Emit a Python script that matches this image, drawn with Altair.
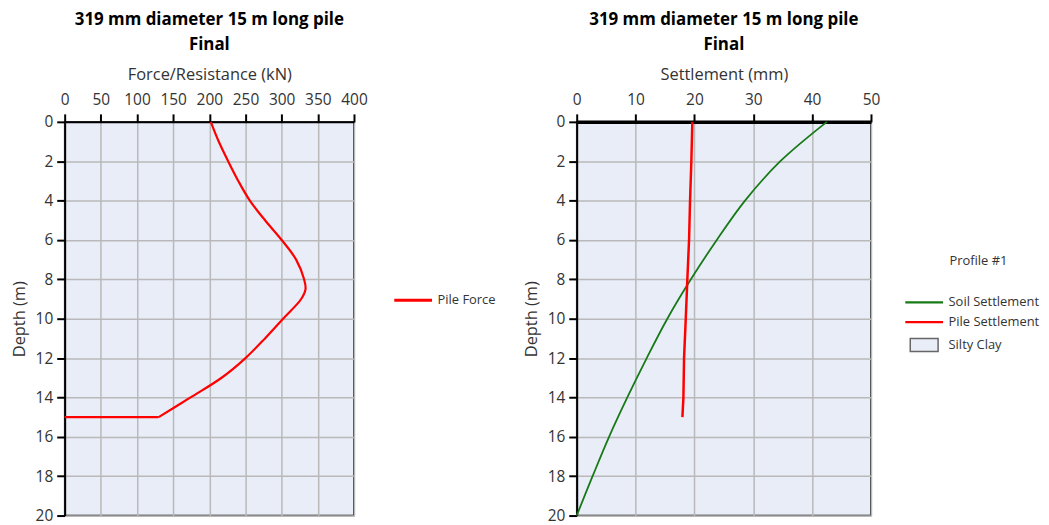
import altair as alt
import pandas as pd

# ---------------- data ----------------
title_lines = ["319 mm diameter 15 m long pile", "Final"]

force_depth = [0, 1, 2, 3, 4, 5, 6, 7, 8, 8.5, 9, 10, 11, 12, 13, 14, 15, 15]
pile_force = [202, 213, 226, 240, 256, 277, 300, 320, 331, 333, 327, 302, 277, 250, 217, 174, 130, 0]

soil_depth = [0, 2, 4, 6, 8, 10, 12, 14, 16, 18, 20]
soil_settlement = [42.5, 34.6, 28.6, 23.8, 19.4, 15.4, 11.9, 8.6, 5.5, 2.7, 0.0]

pile_depth = [0, 2, 4, 6, 8, 10, 12, 14, 15]
pile_settlement = [19.65, 19.48, 19.26, 19.09, 18.8, 18.53, 18.24, 18.13, 17.96]

soil_layers = ["Silty Clay"]
layer_top = [0]
layer_bottom = [20]

force_ticks = [0, 50, 100, 150, 200, 250, 300, 350, 400]
settle_ticks = [0, 10, 20, 30, 40, 50]
depth_ticks = [0, 2, 4, 6, 8, 10, 12, 14, 16, 18, 20]

# ---------------- style ----------------
FONT = "Open Sans"
BG = "#E9EDF8"
RED = "#ff0000"
GREEN = "#177a17"
GRAY = "#666666"
TXT = "#333333"
LBL = 15.5
TTL = 16.5
LEG = 13.0


def x_axis(title, ticks, dw=2.0):
    return alt.Axis(orient="top", title=title, values=ticks, domainColor="black",
                    domainWidth=dw, tickColor="black", tickWidth=2, tickSize=8,
                    labelFontSize=LBL, titleFontSize=TTL, labelPadding=6, titlePadding=11,
                    gridColor="#b9b9b9", gridWidth=1.5, labelColor=TXT, titleColor=TXT,
                    titleFontWeight="normal", labelFlush=False, labelFont=FONT, titleFont=FONT)


def y_axis():
    return alt.Axis(title="Depth (m)", values=depth_ticks, domainColor="black",
                    domainWidth=2, tickColor="black", tickWidth=2, tickSize=8,
                    labelFontSize=LBL, titleFontSize=TTL, labelPadding=4, titlePadding=8,
                    gridColor="#b9b9b9", gridWidth=1.5, labelColor=TXT, titleColor=TXT,
                    titleFontWeight="normal", labelFlush=False, labelFont=FONT, titleFont=FONT)


yscale = alt.Scale(domain=[0, 20], reverse=True, nice=False)
title = alt.TitleParams(text=title_lines, fontSize=17, fontWeight="bold", color="black",
                        anchor="middle", frame="group", lineHeight=25, offset=12, font=FONT)

LINE_PATH = "M-3.8,0H3.8"
RECT_PATH = "M-2.8,-1.3H2.8V1.3H-2.8Z"

# ---------------- left chart ----------------
n_curve = len(force_depth) - 1
curve_df = pd.DataFrame({
    "idx": list(range(n_curve)),
    "depth": force_depth[:n_curve],
    "value": pile_force[:n_curve],
    "series": ["Pile Force"] * n_curve,
})
tip_df = pd.DataFrame({
    "idx": [0, 1],
    "depth": force_depth[-2:],
    "value": pile_force[-2:],
    "series": ["Pile Force"] * 2,
})

fx = alt.X("value:Q", scale=alt.Scale(domain=[0, 400], nice=False),
           axis=x_axis("Force/Resistance (kN)", force_ticks))
fy = alt.Y("depth:Q", scale=yscale, axis=y_axis())
fcolor = alt.Color("series:N", scale=alt.Scale(domain=["Pile Force"], range=[RED]),
                   legend=alt.Legend(title=None, orient="none", legendX=344, legendY=173,
                                     symbolType=LINE_PATH, symbolSize=100,
                                     symbolStrokeWidth=3, labelOffset=18,
                                     labelFontSize=LEG, labelColor=TXT, labelFont=FONT,
                                     padding=0))

left_curve = alt.Chart(curve_df).mark_line(strokeWidth=2.2, interpolate="catmull-rom").encode(
    x=fx, y=fy, order=alt.Order("idx:Q"), color=fcolor)
left_tip = alt.Chart(tip_df).mark_line(strokeWidth=2.2).encode(
    x=fx, y=fy, order=alt.Order("idx:Q"), color=fcolor)

left = alt.layer(left_curve, left_tip).properties(width=291, height=396, title=title)

# ---------------- right chart ----------------
soil_df = pd.DataFrame({
    "idx": list(range(len(soil_depth))),
    "depth": soil_depth,
    "value": soil_settlement,
    "series": ["Soil Settlement"] * len(soil_depth),
})
pile_df = pd.DataFrame({
    "idx": list(range(len(pile_depth))),
    "depth": pile_depth,
    "value": pile_settlement,
    "series": ["Pile Settlement"] * len(pile_depth),
})
layer_df = pd.DataFrame({"layer": soil_layers, "top": layer_top, "bottom": layer_bottom})

right_color = alt.Color(
    "series:N",
    scale=alt.Scale(domain=["Soil Settlement", "Pile Settlement"], range=[GREEN, RED]),
    legend=alt.Legend(title="Profile #1", orient="none", legendX=343, legendY=134,
                      titleAnchor="middle", titlePadding=28, titleFontSize=LEG,
                      titleFontWeight="normal", titleColor=TXT, titleFont=FONT,
                      symbolType=LINE_PATH, symbolSize=100, symbolStrokeWidth=2.2,
                      labelOffset=18, labelFontSize=LEG, labelColor=TXT, labelFont=FONT,
                      rowPadding=6, padding=0),
)

xs = alt.X("value:Q", scale=alt.Scale(domain=[0, 50], nice=False),
           axis=x_axis("Settlement (mm)", settle_ticks, dw=3.5))
ys = alt.Y("depth:Q", scale=yscale, axis=y_axis())

# soil layer band: the visible fill is the view background, so the band itself is kept
# transparent to let the grid show through; it supplies the legend entry.
soil_band = alt.Chart(layer_df).mark_rect(opacity=0).encode(
    x=alt.value(0), x2=alt.value(296),
    y=alt.Y("top:Q", scale=yscale, axis=y_axis()), y2="bottom:Q",
    fill=alt.Fill("layer:N", scale=alt.Scale(domain=soil_layers, range=[BG]),
                  legend=alt.Legend(title=None, orient="none", legendX=343, legendY=218,
                                    symbolType=RECT_PATH, symbolSize=100,
                                    symbolStrokeColor=GRAY, symbolStrokeWidth=1.5,
                                    symbolOpacity=1, labelOffset=18, labelFontSize=LEG,
                                    labelColor=TXT, labelFont=FONT, padding=0)),
)

soil_line = alt.Chart(soil_df).mark_line(strokeWidth=1.8, interpolate="catmull-rom").encode(
    x=xs, y=ys, order=alt.Order("idx:Q"), color=right_color)
pile_line = alt.Chart(pile_df).mark_line(strokeWidth=2.5).encode(
    x=xs, y=ys, order=alt.Order("idx:Q"), color=right_color)

right = alt.layer(soil_band, soil_line, pile_line).properties(width=296, height=396, title=title)

chart = alt.hconcat(
    left, right, spacing=25,
    padding={"left": 2, "top": 1, "right": 0, "bottom": 0},
).resolve_scale(
    color="independent", fill="independent", x="independent", y="independent"
).resolve_legend(
    color="independent", fill="independent"
).configure(font=FONT).configure_view(
    fill=BG, stroke="black", strokeWidth=1.5
)

chart.save("out.html", embed_options={"renderer": "svg", "actions": False})
